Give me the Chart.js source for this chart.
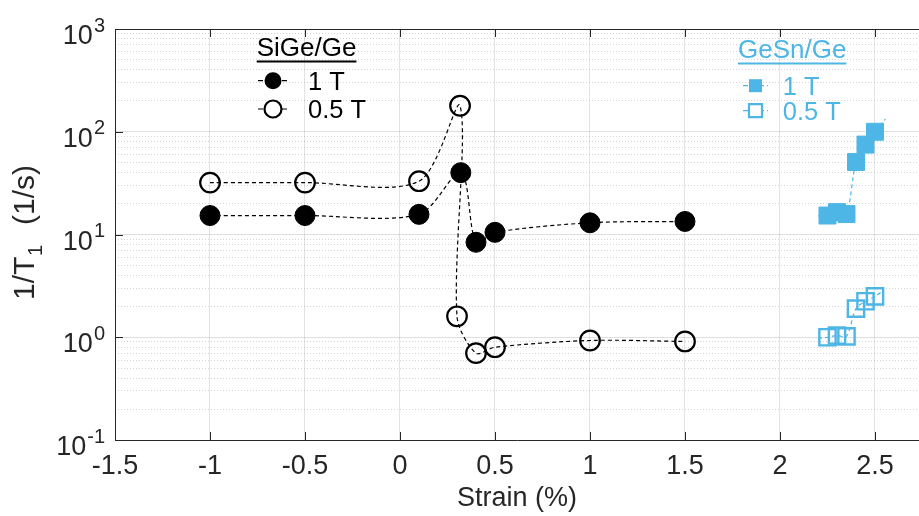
<!DOCTYPE html>
<html>
<head>
<meta charset="utf-8">
<script src="https://cdn.jsdelivr.net/npm/chart.js@4.4.1/dist/chart.umd.min.js"></script>
<style>
html, body { margin: 0; padding: 0; background: #fff; }
</style>
</head>
<body>
<canvas id="chart" width="919" height="516"></canvas>
<script>
// values
var strainSiGe1 = [-1, -0.5, 0.1, 0.32, 0.4, 0.5, 1, 1.5];
var rateSiGe1 = [15.3, 15.3, 15.7, 40, 8.4, 10.5, 13, 13.4];
var strainSiGe05 = [-1, -0.5, 0.1, 0.316, 0.3, 0.4, 0.5, 1, 1.5];
var rateSiGe05 = [32, 32, 33, 179, 1.6, 0.7, 0.8, 0.93, 0.91];
// first and last entries are the ends of the dashed guide line (no marker)
var strainGeSn1 = [2.2, 2.25, 2.3, 2.35, 2.4, 2.45, 2.5, 2.555];
var rateGeSn1 = [15.2, 15.3, 16.5, 15.8, 50.7, 75, 100, 133];
var strainGeSn05 = [2.2, 2.25, 2.3, 2.35, 2.4, 2.45, 2.5, 2.547];
var rateGeSn05 = [0.98, 1.0, 1.04, 1.02, 1.9, 2.24, 2.5, 2.87];

var xTicks = [-1.5, -1, -0.5, 0, 0.5, 1, 1.5, 2, 2.5];
var yTicks = [0.1, 1, 10, 100, 1000];
var yExp = ['-1', '0', '1', '2', '3'];

var blue = '#4db6e6';
var axisColor = '#262626';
var font = '"Liberation Sans", Arial, sans-serif';

function pts(xs, ys) {
	var out = [];
	for (var i = 0; i < xs.length; i++) out.push({x: xs[i], y: ys[i]});
	return out;
}

var minorTicks = [];
for (var d = 0.1; d < 1000; d *= 10) {
	for (var m = 2; m <= 9; m++) minorTicks.push(+(m * d).toPrecision(3));
}

function endless(r) {
	return function(c) {
		var n = c.dataset.data.length;
		return (c.dataIndex === 0 || c.dataIndex === n - 1) ? 0 : r;
	};
}

var decor = {
	id: 'decor',
	afterDraw: function(chart) {
		var ctx = chart.ctx, a = chart.chartArea;
		var xs = chart.scales.x, ys = chart.scales.y;
		ctx.save();
		// box top + inward ticks
		ctx.strokeStyle = axisColor;
		ctx.lineWidth = 1;
		ctx.beginPath();
		ctx.moveTo(a.left, a.top + 0.5);
		ctx.lineTo(a.right, a.top + 0.5);
		xTicks.forEach(function(v) {
			var px = Math.round(xs.getPixelForValue(v)) + 0.5;
			ctx.moveTo(px, a.bottom);
			ctx.lineTo(px, a.bottom - 8);
			ctx.moveTo(px, a.top);
			ctx.lineTo(px, a.top + 8);
		});
		yTicks.forEach(function(v) {
			var py = Math.round(ys.getPixelForValue(v)) + 0.5;
			ctx.moveTo(a.left, py);
			ctx.lineTo(a.left + 8, py);
		});
		ctx.stroke();

		// y tick labels 10^n
		ctx.fillStyle = axisColor;
		ctx.textBaseline = 'alphabetic';
		yTicks.forEach(function(v, i) {
			var py = ys.getPixelForValue(v);
			ctx.font = '20px ' + font;
			var we = ctx.measureText(yExp[i]).width;
			ctx.textAlign = 'left';
			ctx.fillText(yExp[i], 105 - we, py + 2.5);
			ctx.font = '27px ' + font;
			ctx.textAlign = 'right';
			ctx.fillText('10', 104 - we, py + 15);
		});

		// y axis title
		ctx.save();
		ctx.translate(34, 300);
		ctx.rotate(-Math.PI / 2);
		ctx.textAlign = 'left';
		ctx.font = '30px ' + font;
		ctx.fillText('1/T', 0, 0);
		ctx.font = '20px ' + font;
		ctx.fillText('1', 44, 8);
		ctx.font = '30px ' + font;
		ctx.fillText('(1/s)', 75, 0);
		ctx.restore();

		// legends
		function legendBlock(x0, yTitle, title, color, rows) {
			ctx.fillStyle = color;
			ctx.font = '26px ' + font;
			ctx.textAlign = 'left';
			ctx.fillText(title, x0, yTitle);
			var w = ctx.measureText(title).width;
			ctx.fillRect(x0, yTitle + 4.5, w, 2);
			rows.forEach(function(r) {
				ctx.strokeStyle = color;
				ctx.lineWidth = 1.2;
				ctx.setLineDash([5, 3]);
				ctx.beginPath();
				ctx.moveTo(r.lx0, r.y);
				ctx.lineTo(r.lx1, r.y);
				ctx.stroke();
				ctx.setLineDash([]);
				var cx = (r.lx0 + r.lx1) / 2;
				ctx.beginPath();
				if (r.shape === 'circle') {
					ctx.arc(cx, r.y, 8.5, 0, Math.PI * 2);
				} else {
					ctx.rect(cx - 6.5, r.y - 6.5, 13, 13);
				}
				if (r.filled) {
					ctx.fillStyle = color;
					ctx.fill();
				} else {
					ctx.fillStyle = '#fff';
					ctx.fill();
					ctx.lineWidth = 2.2;
					ctx.stroke();
				}
				ctx.fillStyle = color;
				ctx.font = '25.5px ' + font;
				ctx.fillText(r.text, r.tx, r.y + 9.1);
			});
		}
		legendBlock(256.7, 56, 'SiGe/Ge', '#000', [
			{lx0: 258, lx1: 288, y: 80.7, shape: 'circle', filled: true, text: '1 T', tx: 308},
			{lx0: 258, lx1: 288, y: 109, shape: 'circle', filled: false, text: '0.5 T', tx: 308}
		]);
		legendBlock(738, 58, 'GeSn/Ge', blue, [
			{lx0: 743, lx1: 768, y: 85.7, shape: 'rect', filled: true, text: '1 T', tx: 782.7},
			{lx0: 743, lx1: 768, y: 110.7, shape: 'rect', filled: false, text: '0.5 T', tx: 782.7}
		]);
		ctx.restore();
	}
};

var ctx = document.getElementById('chart');
var strainChart = new Chart(ctx, {
	type: 'scatter',
	data: {
		datasets: [
			{
				label: 'SiGe/Ge 1 T',
				data: pts(strainSiGe1, rateSiGe1),
				showLine: true,
				tension: 0.3,
				borderColor: '#000',
				borderWidth: 1.2,
				borderDash: [4, 3],
				pointStyle: 'circle',
				pointRadius: 10,
				pointBackgroundColor: '#000',
				pointBorderColor: '#000',
				pointBorderWidth: 1
			},
			{
				label: 'SiGe/Ge 0.5 T',
				data: pts(strainSiGe05, rateSiGe05),
				showLine: true,
				tension: 0.3,
				borderColor: '#000',
				borderWidth: 1.2,
				borderDash: [4, 3],
				pointStyle: 'circle',
				pointRadius: 9.8,
				pointBackgroundColor: 'rgba(0,0,0,0)',
				pointBorderColor: '#000',
				pointBorderWidth: 2.2
			},
			{
				label: 'GeSn/Ge 1 T',
				data: pts(strainGeSn1, rateGeSn1),
				showLine: true,
				tension: 0.3,
				borderColor: blue,
				borderWidth: 1.2,
				borderDash: [4, 3],
				pointStyle: 'rect',
				pointRadius: endless(12),
				pointBackgroundColor: blue,
				pointBorderColor: blue,
				pointBorderWidth: 1
			},
			{
				label: 'GeSn/Ge 0.5 T',
				data: pts(strainGeSn05, rateGeSn05),
				showLine: true,
				tension: 0.3,
				borderColor: blue,
				borderWidth: 1.2,
				borderDash: [4, 3],
				pointStyle: 'rect',
				pointRadius: endless(11.5),
				pointBackgroundColor: 'rgba(0,0,0,0)',
				pointBorderColor: blue,
				pointBorderWidth: 2.4
			}
		]
	},
	options: {
		responsive: false,
		animation: false,
		devicePixelRatio: 1,
		layout: { autoPadding: false, padding: { top: 29, left: 0, right: 0, bottom: 0 } },
		plugins: {
			legend: { display: false },
			tooltip: { enabled: false }
		},
		scales: {
			x: {
				type: 'linear',
				min: -1.5,
				max: 2.7316,
				afterBuildTicks: function(s) { s.ticks = xTicks.map(function(v) { return {value: v}; }); },
				afterFit: function(s) { s.height = 76; s.paddingLeft = 0; s.paddingRight = 0; },
				ticks: {
					color: axisColor,
					font: { family: font, size: 27 },
					padding: 10,
					maxRotation: 0,
					autoSkip: false,
					callback: function(v) { return String(v); }
				},
				grid: { color: 'rgba(38,38,38,0.13)', drawTicks: false },
				border: { display: true, color: axisColor, width: 1 },
				title: {
					display: true,
					text: 'Strain (%)',
					color: axisColor,
					font: { family: font, size: 27 },
					padding: { top: 0, bottom: 1 }
				}
			},
			y: {
				type: 'logarithmic',
				min: 0.1,
				max: 1000,
				afterBuildTicks: function(s) { s.ticks = yTicks.map(function(v) { return {value: v, major: true}; }); },
				afterFit: function(s) { s.width = 115; s.paddingTop = 0; s.paddingBottom = 0; },
				ticks: { display: false },
				grid: { color: 'rgba(38,38,38,0.15)', drawTicks: false },
				border: { display: true, color: axisColor, width: 1 }
			},
			yMinor: {
				type: 'logarithmic',
				position: 'left',
				min: 0.1,
				max: 1000,
				afterBuildTicks: function(s) { s.ticks = minorTicks.map(function(v) { return {value: v}; }); },
				afterFit: function(s) { s.width = 0; s.paddingTop = 0; s.paddingBottom = 0; },
				ticks: { display: false },
				grid: { color: 'rgba(38,38,38,0.2)', drawTicks: false, lineWidth: 1 },
				border: { display: false, dash: [1, 2] }
			}
		}
	},
	plugins: [decor]
});
</script>
</body>
</html>
